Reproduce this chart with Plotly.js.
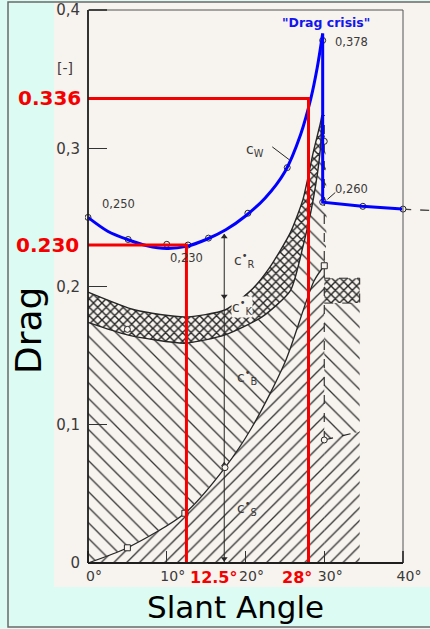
<!DOCTYPE html>
<html>
<head>
<meta charset="utf-8">
<script src="https://cdn.plot.ly/plotly-3.0.1.min.js"></script>
<style>
html,body{margin:0;padding:0;background:#dcfbf2;}
#chart{width:430px;height:629px;}
</style>
</head>
<body>
<div id="chart"></div>
<script>
// ---------- data (slant angle in degrees, drag coefficient) ----------
// total drag Cw (blue overlay curve)
const cwAngle = [0, 2.5, 5, 7.5, 10, 12.5, 15, 17.5, 20, 22.5, 25, 27, 28.3, 29.1, 29.8];
const cwValue = [0.250, 0.240, 0.234, 0.2295, 0.2275, 0.229, 0.234, 0.241, 0.251, 0.264, 0.283, 0.310, 0.336, 0.358, 0.383];
const cwPostAngle = [29.8, 29.8, 34.8, 39.9];
const cwPostValue = [0.383, 0.261, 0.258, 0.256];
const cwTailAngle = [39.9, 43.4];
const cwTailValue = [0.256, 0.255];
// measured points on Cw
const cwPtAngle = [0, 5.1, 10, 12.7, 15.3, 20.3, 25.3, 29.8, 29.8, 34.9, 40];
const cwPtValue = [0.250, 0.234, 0.2305, 0.230, 0.235, 0.253, 0.286, 0.378, 0.261, 0.258, 0.256];
// c*K band (cross-hatched)
const ckUpperAngle = [0, 6, 12.3, 17.4, 21, 23.1, 25.7, 27.3, 28.6, 29.5, 29.7];
const ckUpperValue = [0.196, 0.183, 0.178, 0.183, 0.199, 0.214, 0.239, 0.263, 0.297, 0.318, 0.324];
const ckLowerAngle = [0, 5, 12.3, 17.4, 22.1, 25.7, 27.3, 28.6, 29.5, 29.7];
const ckLowerValue = [0.174, 0.165, 0.159, 0.165, 0.178, 0.197, 0.229, 0.263, 0.299, 0.324];
// c*S curve (slant surface)
const csAngle = [0, 5, 12.3, 17.4, 20.8, 25, 28.7, 30];
const csValue = [0, 0.011, 0.036, 0.069, 0.098, 0.145, 0.204, 0.215];
// 30 degree edge of c*B region
const edgeAngle = 30;
const cbEdgeTop = 0.318;
// region after the drag crisis
const post30Angle = [30, 34.5];
const post30Sep = [0.089, 0.095];
const post30KLow = [0.188, 0.188];
const post30KHigh = [0.206, 0.206];
// other measured points
const ptAngle = [5, 5, 12.3, 17.4, 30, 30, 30];
const ptValue = [0.169, 0.011, 0.036, 0.069, 0.215, 0.305, 0.089];
const ptSymbol = ['circle', 'square', 'square', 'circle', 'square', 'circle', 'circle'];
// c*R measuring line with arrow heads
const measureAngle = 17.3;
const measureTop = 0.238;
const arrowValues = [0.236, 0.193, 0.071, 0.003];
const arrowSymbols = ['triangle-up', 'triangle-down', 'triangle-up', 'triangle-down'];
// highlighted readings (red)
const markAngles = [12.5, 28];
const markDrags = [0.230, 0.336];
// axis ticks
const xTickVals = [0, 10, 20, 30, 40];
const xTickText = ['0°', '10°', '20°', '30°', '40°'];
const yTickVals = [0, 0.1, 0.2, 0.3, 0.4];
const yTickText = ['0', '0,1', '0,2', '0,3', '0,4'];

// ---------- layout geometry ----------
const L = 85, T = 6, W = 345, H = 560;
const pxX = v => (v - L) / W;
const pxY = v => (T + H - v) / H;
const INK = '#262626';
const HATCH = '#353535';
const SCAN = '#f7f3ee';
const FONT = 'DejaVu Sans';
const RED = '#f50000';
const BLUE = '#0000ff';

const rev = a => a.slice().reverse();
const patt = (shape, size, solidity) => ({shape: shape, size: size, solidity: solidity,
  fgcolor: HATCH, bgcolor: 'rgba(0,0,0,0)', fillmode: 'replace'});

const traces = [];
// c*S region
traces.push({x: csAngle, y: csValue, mode: 'lines', fill: 'tozeroy',
  line: {color: INK, width: 1.3, shape: 'spline', smoothing: 0.8},
  fillcolor: '#444', fillpattern: patt('/', 9, 0.15), hoverinfo: 'skip'});
// c*B region
traces.push({x: ckLowerAngle.concat([edgeAngle], rev(csAngle)),
  y: ckLowerValue.concat([cbEdgeTop], rev(csValue)),
  mode: 'lines', fill: 'toself', line: {width: 0, shape: 'spline', smoothing: 0.6},
  fillcolor: '#444', fillpattern: patt('\\', 11, 0.12), hoverinfo: 'skip'});
// c*K band
traces.push({x: ckUpperAngle.concat(rev(ckLowerAngle)),
  y: ckUpperValue.concat(rev(ckLowerValue)),
  mode: 'lines', fill: 'toself', line: {color: INK, width: 1.4, shape: 'spline', smoothing: 0.6},
  fillcolor: '#444', fillpattern: {shape: 'x', size: 6, solidity: 0.42, fgcolor: '#262626', bgcolor: 'rgba(0,0,0,0)', fillmode: 'replace'},
  hoverinfo: 'skip'});
// post-crisis regions
const pA = [post30Angle[0], post30Angle[1], post30Angle[1], post30Angle[0]];
traces.push({x: pA, y: [0, 0, post30Sep[1], post30Sep[0]], mode: 'lines', fill: 'toself',
  line: {width: 0}, fillcolor: '#444', fillpattern: patt('/', 9, 0.15), hoverinfo: 'skip'});
traces.push({x: pA, y: [post30Sep[0], post30Sep[1], post30KLow[1], post30KLow[0]], mode: 'lines', fill: 'toself',
  line: {width: 0}, fillcolor: '#444', fillpattern: patt('\\', 11, 0.12), hoverinfo: 'skip'});
traces.push({x: pA, y: [post30KLow[0], post30KLow[1], post30KHigh[1], post30KHigh[0]], mode: 'lines', fill: 'toself',
  line: {color: INK, width: 1, dash: 'dash'}, fillcolor: '#444',
  fillpattern: {shape: 'x', size: 6, solidity: 0.42, fgcolor: '#262626', bgcolor: 'rgba(0,0,0,0)', fillmode: 'replace'},
  hoverinfo: 'skip'});
// dashed 30 degree edge and separator
traces.push({x: [edgeAngle, edgeAngle], y: [post30Sep[0], ckUpperValue[ckUpperValue.length - 1]], mode: 'lines',
  line: {color: INK, width: 1.1, dash: 'dash'}, hoverinfo: 'skip'});
traces.push({x: post30Angle, y: post30Sep, mode: 'lines',
  line: {color: INK, width: 1.1, dash: 'dash'}, hoverinfo: 'skip'});
// measuring line and its arrow heads
traces.push({x: [measureAngle, measureAngle], y: [0, measureTop], mode: 'lines',
  line: {color: INK, width: 1}, hoverinfo: 'skip'});
traces.push({x: arrowValues.map(() => measureAngle), y: arrowValues, mode: 'markers',
  marker: {symbol: arrowSymbols, size: 6, color: INK, line: {width: 0}}, hoverinfo: 'skip'});
// dashed continuation of Cw
traces.push({x: cwTailAngle, y: cwTailValue, mode: 'lines',
  line: {color: '#444', width: 1.3, dash: 'dash'}, hoverinfo: 'skip'});
// measured points
traces.push({x: ptAngle, y: ptValue, mode: 'markers',
  marker: {symbol: ptSymbol, size: 6, color: SCAN, line: {color: INK, width: 1}}, hoverinfo: 'skip'});
traces.push({x: cwPtAngle, y: cwPtValue, mode: 'markers',
  marker: {symbol: 'circle', size: 6, color: SCAN, line: {color: INK, width: 1}}, hoverinfo: 'skip'});
// Cw blue overlay
traces.push({x: cwAngle, y: cwValue, mode: 'lines',
  line: {color: BLUE, width: 3, shape: 'spline', smoothing: 0.9}, hoverinfo: 'skip'});
traces.push({x: cwPostAngle, y: cwPostValue, mode: 'lines',
  line: {color: BLUE, width: 3}, hoverinfo: 'skip'});
// red reading lines
markAngles.forEach((a, i) => {
  traces.push({x: [0, a, a], y: [markDrags[i], markDrags[i], 0], mode: 'lines',
    line: {color: RED, width: 3}, hoverinfo: 'skip'});
});

const shapes = [
  // scanned sheet
  {type: 'rect', xref: 'paper', yref: 'paper', x0: pxX(54), x1: pxX(434), y0: pxY(587), y1: pxY(1),
   fillcolor: SCAN, line: {width: 0}, layer: 'below'},
  // outer border
  {type: 'rect', xref: 'paper', yref: 'paper', x0: pxX(8), x1: pxX(434), y0: pxY(627), y1: pxY(2),
   fillcolor: 'rgba(0,0,0,0)', line: {color: '#6a6a6a', width: 1.5}, layer: 'below'},
  // frame top and right
  {type: 'line', xref: 'x', yref: 'y', x0: 0, x1: 40, y0: 0.4, y1: 0.4, line: {color: '#555', width: 1}},
  {type: 'line', xref: 'x', yref: 'y', x0: 40, x1: 40, y0: 0, y1: 0.4, line: {color: '#555', width: 1}},
  // axes
  {type: 'line', xref: 'x', yref: 'y', x0: 0, x1: 40, y0: 0, y1: 0, line: {color: '#1e1e1e', width: 1.8}},
  {type: 'line', xref: 'x', yref: 'y', x0: 0, x1: 0, y0: 0, y1: 0.4, line: {color: '#1e1e1e', width: 1.8}},
  // leaders
  {type: 'line', xref: 'x', yref: 'y', x0: 23.4, x1: 25.6, y0: 0.301, y1: 0.2915, line: {color: INK, width: 1}},
  {type: 'line', xref: 'x', yref: 'y', x0: 30.4, x1: 31.4, y0: 0.263, y1: 0.268, line: {color: INK, width: 1}}
];

const scanFont = {family: FONT, size: 11.5, color: '#3a3a3a'};
const labFont = {family: FONT, size: 14, color: '#3a3a3a'};
const C = {xanchor: 'center', yanchor: 'middle', showarrow: false};
const annotations = [
  Object.assign({text: '[-]', xref: 'paper', yref: 'paper', x: pxX(65), y: pxY(68), font: {family: FONT, size: 14, color: '#3a3a3a'}}, C),
  Object.assign({text: '0,250', x: 3.9, y: 0.2597, font: scanFont}, C),
  Object.assign({text: '0,230', x: 12.5, y: 0.2206, font: scanFont}, C),
  Object.assign({text: '0,378', x: 33.5, y: 0.377, font: scanFont}, C),
  Object.assign({text: '0,260', x: 33.5, y: 0.2705, font: scanFont}, C),
  Object.assign({text: 'c<sub>W</sub>', x: 21.2, y: 0.2987, font: labFont}, C),
  Object.assign({text: 'c<sup>•</sup><sub>R</sub>', x: 19.8, y: 0.219, font: labFont}, C),
  Object.assign({text: 'c<sup>•</sup><sub>K</sub>', x: 19.6, y: 0.185, font: labFont, bgcolor: SCAN, borderpad: 0}, C),
  Object.assign({text: 'c<sup>•</sup><sub>B</sub>', x: 20.2, y: 0.1345, font: labFont}, C),
  Object.assign({text: 'c<sup>•</sup><sub>S</sub>', x: 20.2, y: 0.040, font: labFont}, C),
  Object.assign({text: '<b>"Drag crisis"</b>', x: 30.2, y: 0.391, font: {family: FONT, size: 12.5, color: '#1414f0'}}, C),
  // red readings
  {text: '<b>' + markDrags[1].toFixed(3) + '</b>', xref: 'paper', x: pxX(83), xanchor: 'right', yanchor: 'middle',
   y: markDrags[1], showarrow: false, font: {family: FONT, size: 20, color: RED}},
  {text: '<b>' + markDrags[0].toFixed(3) + '</b>', xref: 'paper', x: pxX(81), xanchor: 'right', yanchor: 'middle',
   y: markDrags[0], showarrow: false, font: {family: FONT, size: 20, color: RED}},
  {text: '<b>' + markAngles[0] + '°</b>', x: markAngles[0], xanchor: 'left', xshift: 2, yref: 'paper', y: pxY(577),
   yanchor: 'middle', showarrow: false, font: {family: FONT, size: 16, color: RED}},
  {text: '<b>' + markAngles[1] + '°</b>', x: markAngles[1], xanchor: 'right', xshift: 5, yref: 'paper', y: pxY(577),
   yanchor: 'middle', showarrow: false, font: {family: FONT, size: 16, color: RED}},
  // titles
  Object.assign({text: 'Drag', xref: 'paper', yref: 'paper', x: pxX(29), y: pxY(331), textangle: -90,
   font: {family: FONT, size: 36, color: '#000'}}, C),
  Object.assign({text: 'Slant Angle', xref: 'paper', yref: 'paper', x: pxX(235), y: pxY(607),
   font: {family: FONT, size: 31, color: '#000'}}, C)
];

const layout = {
  width: 430, height: 629,
  margin: {l: L, r: 430 - L - W, t: T, b: 629 - T - H, pad: 0},
  paper_bgcolor: '#dcfbf2', plot_bgcolor: 'rgba(0,0,0,0)',
  showlegend: false,
  xaxis: {range: [-3 / 7.875, -3 / 7.875 + W / 7.875], anchor: 'free', position: 3 / H,
    tickvals: xTickVals, ticktext: xTickText, ticks: 'inside', ticklen: 12, tickwidth: 1.2, tickcolor: '#333',
    showgrid: false, zeroline: false, showline: false, ticklabelshift: 6, ticklabelstandoff: 3,
    tickfont: {family: FONT, size: 14, color: '#3a3a3a'}, fixedrange: true},
  yaxis: {range: [-3 / 1382.5, -3 / 1382.5 + H / 1382.5], anchor: 'free', position: 3 / W,
    tickvals: yTickVals, ticktext: yTickText, ticks: 'inside', ticklen: 18, tickwidth: 1.2, tickcolor: '#333',
    showgrid: false, zeroline: false, showline: false, ticklabelstandoff: 8,
    tickfont: {family: FONT, size: 15, color: '#3a3a3a'}, fixedrange: true},
  shapes: shapes,
  annotations: annotations
};

Plotly.newPlot('chart', traces, layout, {displayModeBar: false, staticPlot: true});
</script>
</body>
</html>
